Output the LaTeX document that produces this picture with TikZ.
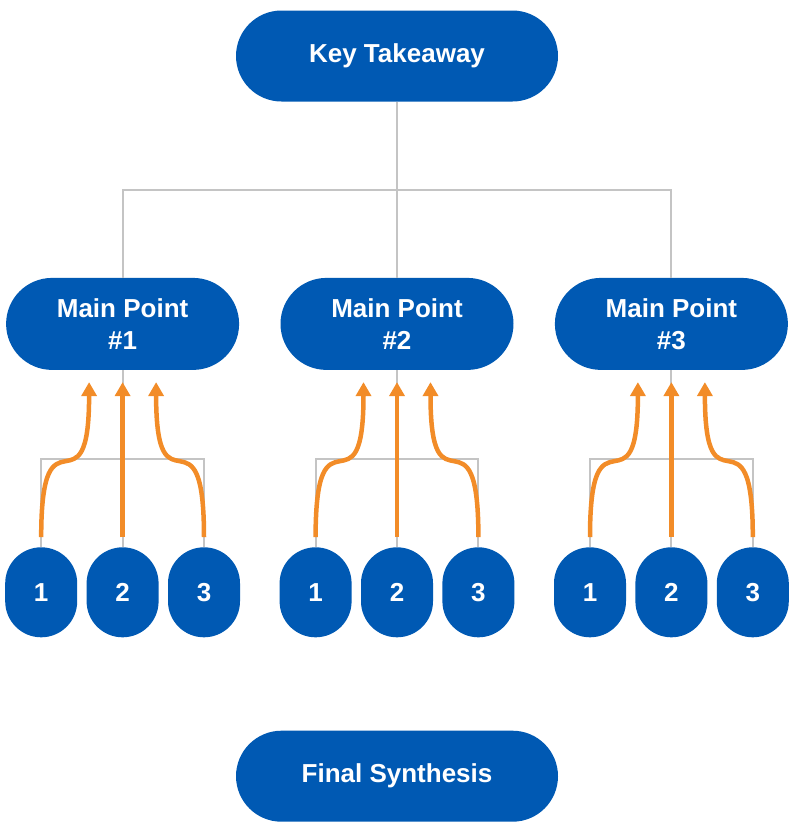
\documentclass[tikz,border=0pt]{standalone}
\usepackage{fontspec}
\setmainfont{Liberation Sans}
\usepackage{tikz}
\usetikzlibrary{positioning,arrows.meta,calc}

\definecolor{boxblue}{HTML}{0059B3}
\definecolor{pointorange}{HTML}{F28C28}
\definecolor{treegray}{HTML}{C4C4C4}

\begin{document}
\begin{tikzpicture}[x=1pt,y=-1pt]
        \tikzstyle{every node}=[fill=boxblue, text=white, inner sep=0pt, align=center,
                                font=\fontsize{26}{32}\selectfont\bfseries]
        \tikzstyle{wide}=[minimum width=322pt, minimum height=91pt, rounded corners=45.5pt]
        \tikzstyle{main}=[minimum width=233pt, minimum height=92pt, rounded corners=46pt]
        \tikzstyle{sub}=[minimum width=72pt, minimum height=90pt, rounded corners=36pt]
        \tikzstyle{tree}=[draw=treegray, line width=2pt]
        \tikzstyle{flow}=[draw=pointorange, line width=4.5pt, -{Triangle[length=14pt, width=15pt]}]
        \tikzstyle{swerve}=[out=90, in=-90, looseness=2.2]

        \useasboundingbox (0,0) rectangle (801,831);

        \node   (key)   [wide] at (397,56) {Key Takeaway};

        \node   (m2)    [main, below=176pt of key] {Main Point\\\#2};
        \node   (m1)    [main, left=41pt of m2] {Main Point\\\#1};
        \node   (m3)    [main, right=41pt of m2] {Main Point\\\#3};

        \node   (s12)   [sub, below=177pt of m1] {2};
        \node   (s11)   [sub, left=9pt of s12] {1};
        \node   (s13)   [sub, right=9pt of s12] {3};

        \node   (s22)   [sub, below=177pt of m2] {2};
        \node   (s21)   [sub, left=9pt of s22] {1};
        \node   (s23)   [sub, right=9pt of s22] {3};

        \node   (s32)   [sub, below=177pt of m3] {2};
        \node   (s31)   [sub, left=9pt of s32] {1};
        \node   (s33)   [sub, right=9pt of s32] {3};

        \node   (final) [wide, below=93pt of s22] {Final Synthesis};

        % gray tree
        \coordinate (bus) at ($(key.south)!.5!(m2.north)$);
        \draw[tree] (key.south) -- (m2.north);
        \draw[tree] (m1.north) |- (bus) -| (m3.north);

        \coordinate (b1) at ($(m1.south)!.5!(s12.north)$);
        \coordinate (b2) at ($(m2.south)!.5!(s22.north)$);
        \coordinate (b3) at ($(m3.south)!.5!(s32.north)$);
        \draw[tree] (m1.south) -- (s12.north)
                    (s11.north) |- (b1) -| (s13.north);
        \draw[tree] (m2.south) -- (s22.north)
                    (s21.north) |- (b2) -| (s23.north);
        \draw[tree] (m3.south) -- (s32.north)
                    (s31.north) |- (b3) -| (s33.north);

        % orange arrows
        \path ([yshift=10pt]s11.north) edge [flow, swerve] ([xshift=-33.5pt, yshift=-12pt]m1.south)
              ([yshift=10pt]s12.north) edge [flow] ([yshift=-12pt]m1.south)
              ([yshift=10pt]s13.north) edge [flow, swerve] ([xshift=33.5pt, yshift=-12pt]m1.south);
        \path ([yshift=10pt]s21.north) edge [flow, swerve] ([xshift=-33.5pt, yshift=-12pt]m2.south)
              ([yshift=10pt]s22.north) edge [flow] ([yshift=-12pt]m2.south)
              ([yshift=10pt]s23.north) edge [flow, swerve] ([xshift=33.5pt, yshift=-12pt]m2.south);
        \path ([yshift=10pt]s31.north) edge [flow, swerve] ([xshift=-33.5pt, yshift=-12pt]m3.south)
              ([yshift=10pt]s32.north) edge [flow] ([yshift=-12pt]m3.south)
              ([yshift=10pt]s33.north) edge [flow, swerve] ([xshift=33.5pt, yshift=-12pt]m3.south);

\end{tikzpicture}
\end{document}
